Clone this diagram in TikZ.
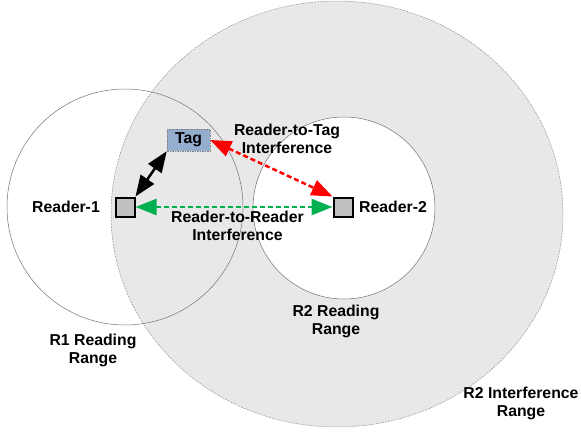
\documentclass[tikz,border=0pt]{standalone}
\usepackage{fontspec}
\setmainfont{Liberation Sans}
\usetikzlibrary{arrows.meta}

\definecolor{rangegray}{HTML}{E8E8E8}
\definecolor{tagblue}{HTML}{95AED0}
\definecolor{boxgray}{HTML}{C0C0C0}
\definecolor{rrgreen}{HTML}{00B050}

\begin{document}
\begin{tikzpicture}[x=1pt,y=-1pt]
  \def\lw{2.5pt}
  \def\fs{\bfseries\fontsize{15.8}{18}\selectfont}

\tikzstyle{reader}=[draw=black,line width=2pt,fill=boxgray,minimum size=19pt,inner sep=0pt]
\tikzstyle{tagbox}=[draw=gray,dash pattern=on 1.5pt off 1pt,line width=0.5pt,fill=tagblue,minimum width=43pt,minimum height=22pt,inner sep=0pt,font=\fs]
\tikzstyle{lbl}=[align=center,inner sep=0pt,font=\fs]
\tikzstyle{link}=[line width=\lw,arrows={Triangle[length=21pt,width=16pt]-Triangle[length=21pt,width=16pt]}]
\tikzstyle{linkdash}=[link,dash pattern=on 5pt off 3pt]

\useasboundingbox (0,0) rectangle (581,434);
% ranges
\fill[rangegray] (337,214) ellipse [x radius=226pt,y radius=213pt];
\draw[gray!80,line width=0.5pt,dash pattern=on 2pt off 1pt] (337,214) ellipse [x radius=226pt,y radius=213pt];
\draw[gray!90!black,line width=0.5pt,fill=white] (344,208) circle [radius=91pt];
\draw[gray!90!black,line width=0.5pt] (125,207) circle [radius=118pt];

\node[reader] (rd1) at (125,207) {};
\node[reader] (rd2) at (343,207) {};
\node[tagbox] (tag) at (188.5,140) {Tag};

\draw[link,black] (rd1.north east) -- (tag.south west);
\draw[linkdash,red] (tag.east) -- (rd2.north west);
\draw[linkdash,rrgreen] (rd1.east) -- (rd2.west);

\node[lbl,anchor=east] (rd1lbl) at (100,207) {Reader-1};
\node[lbl,anchor=west] (rd2lbl) at (359,207) {Reader-2};
\node[lbl] (rtt) at (287,139) {Reader-to-Tag\\Interference};
\node[lbl] (rtr) at (237.5,226) {Reader-to-Reader\\Interference};
\node[lbl] (r1rng) at (93,350) {R1 Reading\\Range};
\node[lbl] (r2rng) at (336,321) {R2 Reading\\Range};
\node[lbl] (r2int) at (521,403) {R2 Interference\\Range};
\end{tikzpicture}
\end{document}
